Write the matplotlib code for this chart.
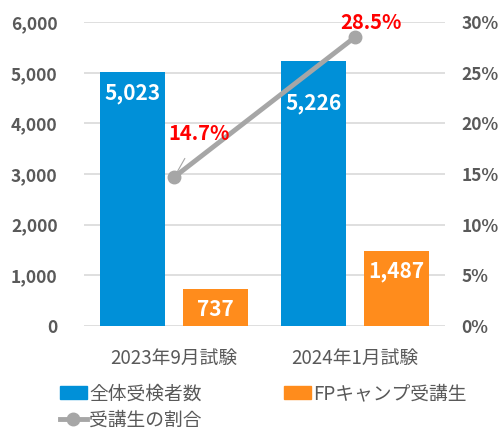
import matplotlib
matplotlib.use('Agg')
import matplotlib.pyplot as plt
import numpy as np
from matplotlib.ticker import FuncFormatter
from matplotlib.lines import Line2D
from matplotlib.patches import Patch

# data
categories = ["2023年9月試験", "2024年1月試験"]
total_examinees = [5023, 5226]
fp_students = [737, 1487]
student_ratio = [14.7, 28.5]  # percent

series_names = ["全体受検者数", "FPキャンプ受講生", "受講生の割合"]

BLUE = "#0090D8"
ORANGE = "#FF8C1C"
GRAY = "#A6A6A6"
TEXT = "#595959"
GRID = "#D9D9D9"

plt.rcParams['font.family'] = ['Noto Sans CJK JP', 'DejaVu Sans']

fig = plt.figure(figsize=(5, 4.34), dpi=100)
ax = fig.add_axes([0.168, 0.249, 0.722, 0.700])
ax2 = ax.twinx()

x = np.arange(len(categories))
width = 0.36
offset = 0.23

ax.bar(x - offset, total_examinees, width, color=BLUE, zorder=2)
ax.bar(x + offset, fp_students, width, color=ORANGE, zorder=2)

ax.set_xlim(-0.5, 1.5)
ax.set_ylim(0, 6000)
ax.set_yticks(np.arange(0, 6001, 1000))
ax.yaxis.set_major_formatter(FuncFormatter(lambda v, p: f"{int(v):,}"))
ax.grid(axis='y', color=GRID, linewidth=1.2, zorder=0)
ax.set_axisbelow(True)
ax.set_xticks(x)
ax.set_xticklabels(categories, fontsize=13.5, color=TEXT)
ax.tick_params(axis='x', length=0, pad=16)
ax.tick_params(axis='y', length=0, pad=19, labelsize=12.5, labelcolor=TEXT)
for lbl in ax.get_yticklabels():
    lbl.set_fontweight('bold')

ax2.set_ylim(0, 30)
ax2.set_yticks(np.arange(0, 31, 5))
ax2.yaxis.set_major_formatter(FuncFormatter(lambda v, p: f"{int(v)}%"))
ax2.tick_params(axis='y', length=0, pad=12, labelsize=12.5, labelcolor=TEXT)
for lbl in ax2.get_yticklabels():
    lbl.set_fontweight('bold')

for a in (ax, ax2):
    for s in a.spines.values():
        s.set_visible(False)

ax2.plot(x, student_ratio, color=GRAY, linewidth=3.5, marker='o',
         markersize=9, zorder=3)

# bar labels
label_offsets_blue = [-22, -42]
for xi, v, dy in zip(x - offset, total_examinees, label_offsets_blue):
    ax.annotate(f"{v:,}", (xi, v), xytext=(0, dy), textcoords='offset pixels',
                ha='center', va='center', color='white', fontsize=15,
                fontweight='bold')
for xi, v in zip(x + offset, fp_students):
    ax.annotate(f"{v:,}", (xi, v), xytext=(0, -21), textcoords='offset pixels',
                ha='center', va='center', color='white', fontsize=15,
                fontweight='bold')

# ratio labels
ax2.annotate(f"{student_ratio[0]}%", (x[0], student_ratio[0]),
             xytext=(25, 44), textcoords='offset pixels',
             ha='center', va='center', color='#FF0000', fontsize=14.5,
             fontweight='bold',
             arrowprops=dict(arrowstyle='-', color=GRAY, linewidth=0.8,
                             shrinkA=10, shrinkB=2))
ax2.annotate(f"{student_ratio[1]}%", (x[1], student_ratio[1]),
             xytext=(16, 15), textcoords='offset pixels',
             ha='center', va='center', color='#FF0000', fontsize=14.5,
             fontweight='bold')

handles = [Patch(color=BLUE),
           Line2D([0], [0], color=GRAY, linewidth=3.5, marker='o', markersize=9),
           Patch(color=ORANGE)]
labels = [series_names[0], series_names[2], series_names[1]]
fig.legend(handles, labels, loc='upper left', bbox_to_anchor=(0.104, 0.134),
           ncol=2, frameon=False, fontsize=13.5, labelcolor=TEXT,
           handlelength=1.45, handletextpad=0.12, columnspacing=4.4,
           labelspacing=0.3, borderaxespad=0)

fig.savefig("out.png", dpi=100)
